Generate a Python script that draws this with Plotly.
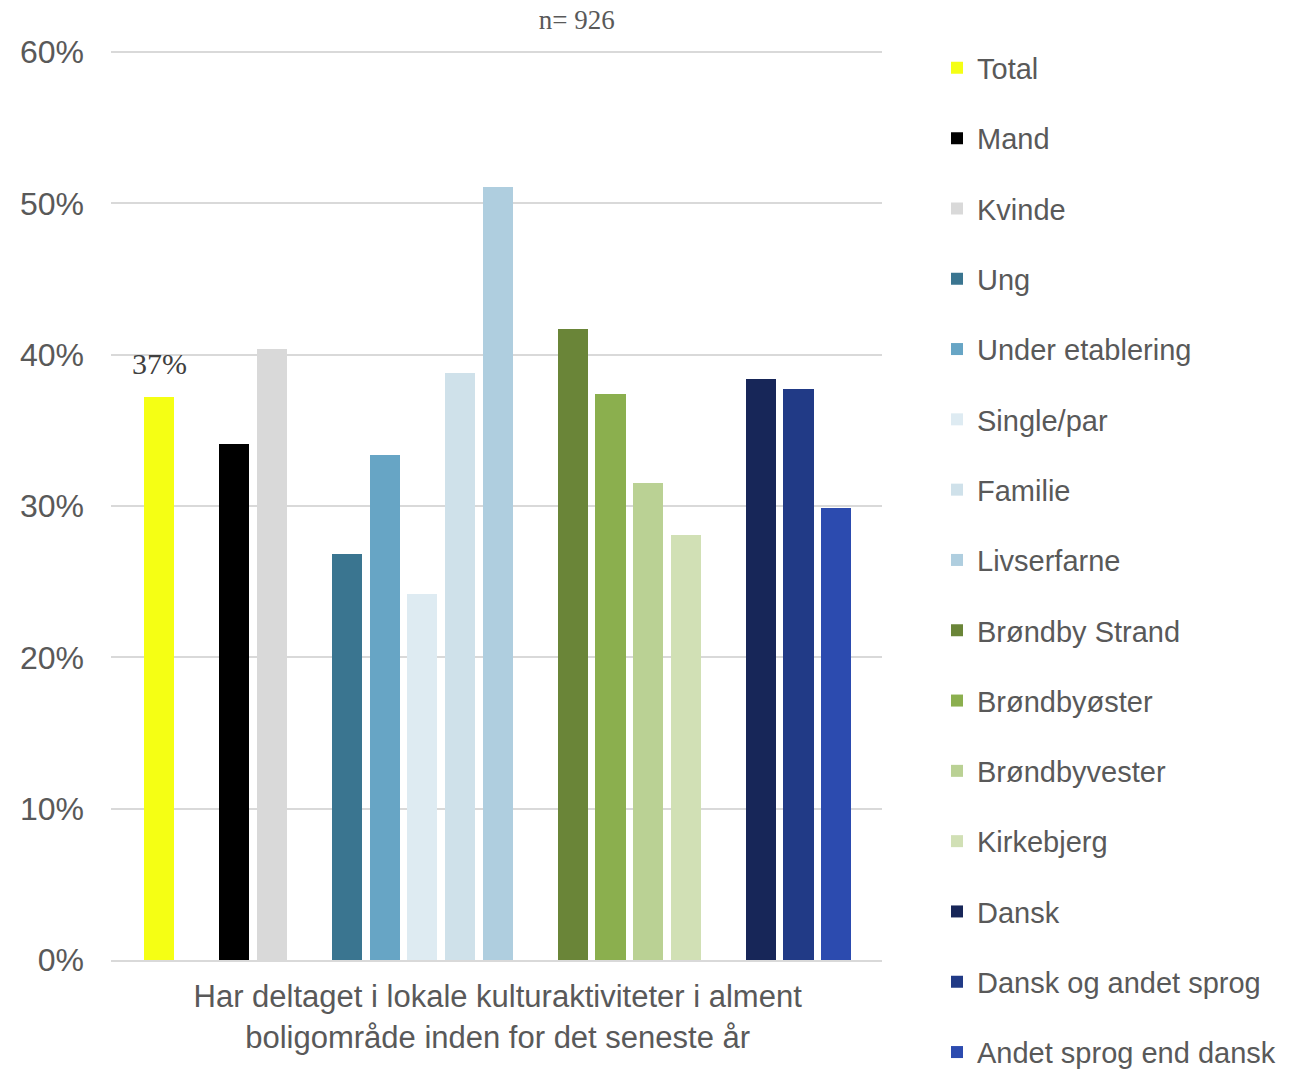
import plotly.graph_objects as go

# ---- data ----
groups = [
    ["Total"],
    ["Mand", "Kvinde"],
    ["Ung", "Under etablering", "Single/par", "Familie", "Livserfarne"],
    ["Brøndby Strand", "Brøndbyøster", "Brøndbyvester", "Kirkebjerg"],
    ["Dansk", "Dansk og andet sprog", "Andet sprog end dansk"],
]
values = {
    "Total": 0.372,
    "Mand": 0.341,
    "Kvinde": 0.404,
    "Ung": 0.268,
    "Under etablering": 0.334,
    "Single/par": 0.242,
    "Familie": 0.388,
    "Livserfarne": 0.511,
    "Brøndby Strand": 0.417,
    "Brøndbyøster": 0.374,
    "Brøndbyvester": 0.315,
    "Kirkebjerg": 0.281,
    "Dansk": 0.384,
    "Dansk og andet sprog": 0.377,
    "Andet sprog end dansk": 0.299,
}
colors = {
    "Total": "#F5FF14",
    "Mand": "#000000",
    "Kvinde": "#D9D9D9",
    "Ung": "#3A7590",
    "Under etablering": "#67A5C5",
    "Single/par": "#DEEBF2",
    "Familie": "#CFE1EA",
    "Livserfarne": "#AFCEDF",
    "Brøndby Strand": "#6A8538",
    "Brøndbyøster": "#8BAF4E",
    "Brøndbyvester": "#BAD194",
    "Kirkebjerg": "#D1E0B5",
    "Dansk": "#172658",
    "Dansk og andet sprog": "#213A86",
    "Andet sprog end dansk": "#2C4BAF",
}
category_label = "Har deltaget i lokale kulturaktiviteter i alment<br>boligområde inden for det seneste år"
title_text = "n= 926"
labelled = {"Total": "37%"}

GRAY = "#595959"
fig = go.Figure()

slot = 0
positions = {}
for gi, g in enumerate(groups):
    if gi > 0:
        slot += 1
    for name in g:
        positions[name] = slot
        slot += 1
n_slots = slot

for g in groups:
    for name in g:
        fig.add_trace(go.Bar(
            x=[positions[name]], y=[values[name]], name=name,
            marker=dict(color=colors[name], line=dict(width=0)),
            width=0.8, legendgroup=name,
        ))

for name, txt in labelled.items():
    fig.add_annotation(x=positions[name], y=values[name], text=txt,
                       showarrow=False, yanchor="bottom", yshift=15,
                       font=dict(family="Liberation Serif", size=30, color="#404040"))

# plot area: 0% at y=960, 60% at y=52 (px)
px_per_unit = 908 / 0.6
y_top = 0.6 + 2 / px_per_unit

fig.update_layout(
    width=1309, height=1070,
    margin=dict(l=111, r=427, t=50, b=110),
    plot_bgcolor="white", paper_bgcolor="white",
    bargap=0,
    title=dict(text=title_text, xref="paper", x=0.604, xanchor="center",
               yref="container", y=1 - 20 / 1070, yanchor="middle",
               font=dict(family="Liberation Serif", size=27, color=GRAY)),
    legend=dict(xref="container", yref="container", x=937 / 1309, y=1 - 42.5 / 1070,
                xanchor="left", yanchor="top",
                traceorder="grouped", tracegroupgap=29.6, maxheight=2000,
                font=dict(family="Liberation Sans", size=29, color=GRAY),
                bgcolor="rgba(0,0,0,0)"),
    xaxis=dict(range=[-1.28, n_slots - 1 + 1.22], tickvals=[(n_slots - 1) / 2],
               ticktext=[category_label], showgrid=False, zeroline=False,
               showline=True, linecolor="#D9D9D9", linewidth=2,
               ticks="", ticklabelstandoff=8,
               tickfont=dict(family="Liberation Sans", size=31, color=GRAY)),
    yaxis=dict(range=[0, y_top], tickvals=[0, 0.1, 0.2, 0.3, 0.4, 0.5, 0.6],
               tickformat=".0%", showgrid=True,
               gridcolor="#D9D9D9", gridwidth=1.5, zeroline=False, showline=False,
               ticklabelstandoff=26,
               tickfont=dict(family="Liberation Sans", size=32, color=GRAY)),
)

fig.write_html("out.html", config={"displayModeBar": False},
               post_script="document.body.style.margin='0';")
